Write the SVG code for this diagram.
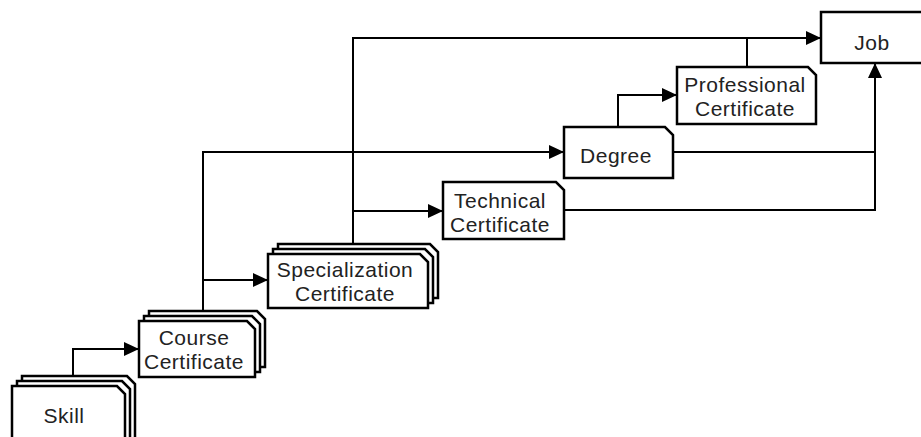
<svg xmlns="http://www.w3.org/2000/svg" width="921" height="437" viewBox="0 0 921 437">
  <style>
    .box { fill: #ffffff; stroke: #000000; stroke-width: 2.5; stroke-linejoin: miter; }
    .conn { fill: none; stroke: #000000; stroke-width: 2; }
    .lbl { font-family: "Liberation Sans", Arial, sans-serif; font-size: 21px; letter-spacing: 0.5px; fill: #222222; text-anchor: middle; }
  </style>
  <defs>
    <marker id="arrow" markerUnits="userSpaceOnUse" markerWidth="16" markerHeight="16" refX="15" refY="7" orient="auto">
      <path d="M0,0 L15,7 L0,14 Z" fill="#000000"/>
    </marker>
  </defs>
  <rect width="921" height="437" fill="#ffffff"/>

  <g id="connectors">
    <path class="conn" d="M73,376 V349 H139" marker-end="url(#arrow)"/>
    <path class="conn" d="M203,311 V152 H564" marker-end="url(#arrow)"/>
    <path class="conn" d="M203,280 H268" marker-end="url(#arrow)"/>
    <path class="conn" d="M353,244 V38 H821" marker-end="url(#arrow)"/>
    <path class="conn" d="M353,211 H443" marker-end="url(#arrow)"/>
    <path class="conn" d="M618,127 V95 H677" marker-end="url(#arrow)"/>
    <path class="conn" d="M747,67 V38"/>
    <path class="conn" d="M673,152 H875"/>
    <path class="conn" d="M564,210 H875 V63" marker-end="url(#arrow)"/>
  </g>

  <g id="skill">
    <path class="box" d="M22,376 H127 L135,384 V445 H22 Z"/>
    <path class="box" d="M17,381 H122 L130,389 V445 H17 Z"/>
    <path class="box" d="M12,386 H117 L125,394 V445 H12 Z"/>
    <text class="lbl" x="64" y="423">Skill</text>
  </g>

  <g id="course-certificate">
    <path class="box" d="M149,311 H257 L265,319 V367 H149 Z"/>
    <path class="box" d="M144,316 H252 L260,324 V372 H144 Z"/>
    <path class="box" d="M139,321 H247 L255,329 V377 H139 Z"/>
    <text class="lbl" x="194" y="345">Course</text>
    <text class="lbl" x="194" y="369">Certificate</text>
  </g>

  <g id="specialization-certificate">
    <path class="box" d="M278,244 H430 L438,252 V298 H278 Z"/>
    <path class="box" d="M273,249 H425 L433,257 V303 H273 Z"/>
    <path class="box" d="M268,254 H420 L428,262 V308 H268 Z"/>
    <text class="lbl" x="345" y="277">Specialization</text>
    <text class="lbl" x="345" y="301">Certificate</text>
  </g>

  <g id="technical-certificate">
    <path class="box" d="M443,182 H556 L564,190 V239 H443 Z"/>
    <text class="lbl" x="500" y="208">Technical</text>
    <text class="lbl" x="500" y="232">Certificate</text>
  </g>

  <g id="degree">
    <path class="box" d="M564,127 H665 L673,135 V178 H564 Z"/>
    <text class="lbl" x="616" y="163">Degree</text>
  </g>

  <g id="professional-certificate">
    <path class="box" d="M677,67 H808 L816,75 V124 H677 Z"/>
    <text class="lbl" x="745" y="92">Professional</text>
    <text class="lbl" x="745" y="116">Certificate</text>
  </g>

  <g id="job">
    <rect class="box" x="821" y="12" width="104" height="51"/>
    <text class="lbl" x="872" y="50">Job</text>
  </g>
</svg>
